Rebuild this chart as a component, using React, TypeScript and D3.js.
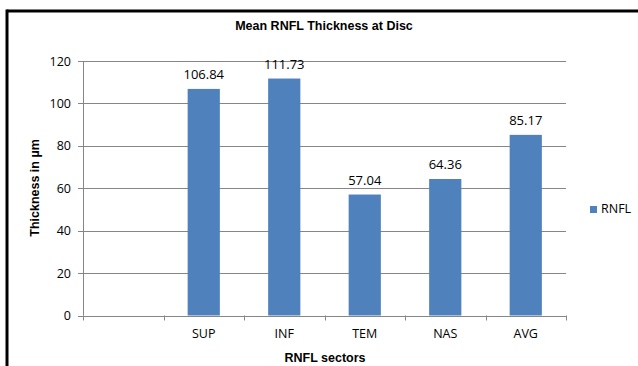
import React from "react";
import * as d3 from "d3";

// RNFL sectors (first slot is intentionally blank)
const categories: string[] = ["", "SUP", "INF", "TEM", "NAS", "AVG"];
const rnflValues: (number | null)[] = [null, 106.84, 111.73, 57.04, 64.36, 85.17];
const yTicks: number[] = [0, 20, 40, 60, 80, 100, 120];
const seriesName = "RNFL";

const W = 638;
const H = 366;
const plot = { left: 83, right: 566, top: 61, bottom: 315.5 };
const barColor = "#4F81BD";
const gridColor = "#868686";
const labelFont = "'Open Sans', 'Liberation Sans', sans-serif";
const boldFont = "'Liberation Sans', 'DejaVu Sans', sans-serif";

export default function App() {
  const x = d3
    .scaleBand<string>()
    .domain(categories.map((c, i) => String(i)))
    .range([plot.left, plot.right])
    .paddingInner(0.6)
    .paddingOuter(0.3);
  const y = d3.scaleLinear().domain([0, 120]).range([plot.bottom, plot.top]);
  const step = x.step();
  const bounds = d3.range(categories.length + 1).map((i) => plot.left + i * step);

  return (
    <svg
      width={W}
      height={H}
      style={{ position: "absolute", left: 0, top: 0, background: "#fff" }}
    >
      {/* frame */}
      <line x1={7} y1={11} x2={W} y2={11} stroke="#000" strokeWidth={3} />
      <line x1={7} y1={9.5} x2={7} y2={H} stroke="#000" strokeWidth={3} />

      <text
        x={324}
        y={30}
        textAnchor="middle"
        fontFamily={boldFont}
        fontWeight="bold"
        fontSize={12.5}
        fill="#000"
      >
        Mean RNFL Thickness at Disc
      </text>

      {/* gridlines and y axis */}
      {yTicks.map((t) => (
        <g key={t}>
          {t > 0 && (
            <line
              x1={plot.left}
              x2={plot.right}
              y1={Math.round(y(t)) + 0.5}
              y2={Math.round(y(t)) + 0.5}
              stroke={gridColor}
              strokeWidth={1}
            />
          )}
          <line
            x1={plot.left - 5}
            x2={plot.left}
            y1={Math.round(y(t)) + 0.5}
            y2={Math.round(y(t)) + 0.5}
            stroke={gridColor}
          />
          <text
            x={71}
            y={y(t) + 4.5}
            textAnchor="end"
            fontFamily={labelFont}
            fontSize={12.5}
            fill="#000"
          >
            {t}
          </text>
        </g>
      ))}
      <line
        x1={plot.left + 0.5}
        x2={plot.left + 0.5}
        y1={plot.top}
        y2={plot.bottom}
        stroke={gridColor}
      />

      {/* bars and value labels */}
      {rnflValues.map((v, i) =>
        v == null ? null : (
          <g key={i}>
            <rect
              x={x(String(i))!}
              y={y(v)}
              width={x.bandwidth()}
              height={plot.bottom - y(v)}
              fill={barColor}
            />
            <text
              x={x(String(i))! + x.bandwidth() / 2}
              y={y(v) - 10}
              textAnchor="middle"
              fontFamily={labelFont}
              fontSize={13}
              fill="#000"
            >
              {v.toFixed(2)}
            </text>
          </g>
        )
      )}

      {/* x axis */}
      <line
        x1={plot.left}
        x2={plot.right}
        y1={Math.round(plot.bottom) + 0.5}
        y2={Math.round(plot.bottom) + 0.5}
        stroke={gridColor}
      />
      {bounds.map((bx, i) => (
        <line
          key={i}
          x1={Math.round(bx) + 0.5}
          x2={Math.round(bx) + 0.5}
          y1={plot.bottom}
          y2={plot.bottom + 5}
          stroke={gridColor}
        />
      ))}
      {categories.map((c, i) => (
        <text
          key={i}
          x={x(String(i))! + x.bandwidth() / 2}
          y={338}
          textAnchor="middle"
          fontFamily={labelFont}
          fontSize={12.5}
          fill="#000"
        >
          {c}
        </text>
      ))}

      <text
        x={325}
        y={362}
        textAnchor="middle"
        fontFamily={boldFont}
        fontWeight="bold"
        fontSize={12.5}
        fill="#000"
      >
        RNFL sectors
      </text>
      <text
        transform="translate(39,188) rotate(-90)"
        textAnchor="middle"
        fontFamily={boldFont}
        fontWeight="bold"
        fontSize={12.5}
        fill="#000"
      >
        Thickness in µm
      </text>

      {/* legend */}
      <rect x={590} y={206} width={7} height={7} fill={barColor} />
      <text x={601} y={213} fontFamily={labelFont} fontSize={12.5} fill="#000">
        {seriesName}
      </text>
    </svg>
  );
}
